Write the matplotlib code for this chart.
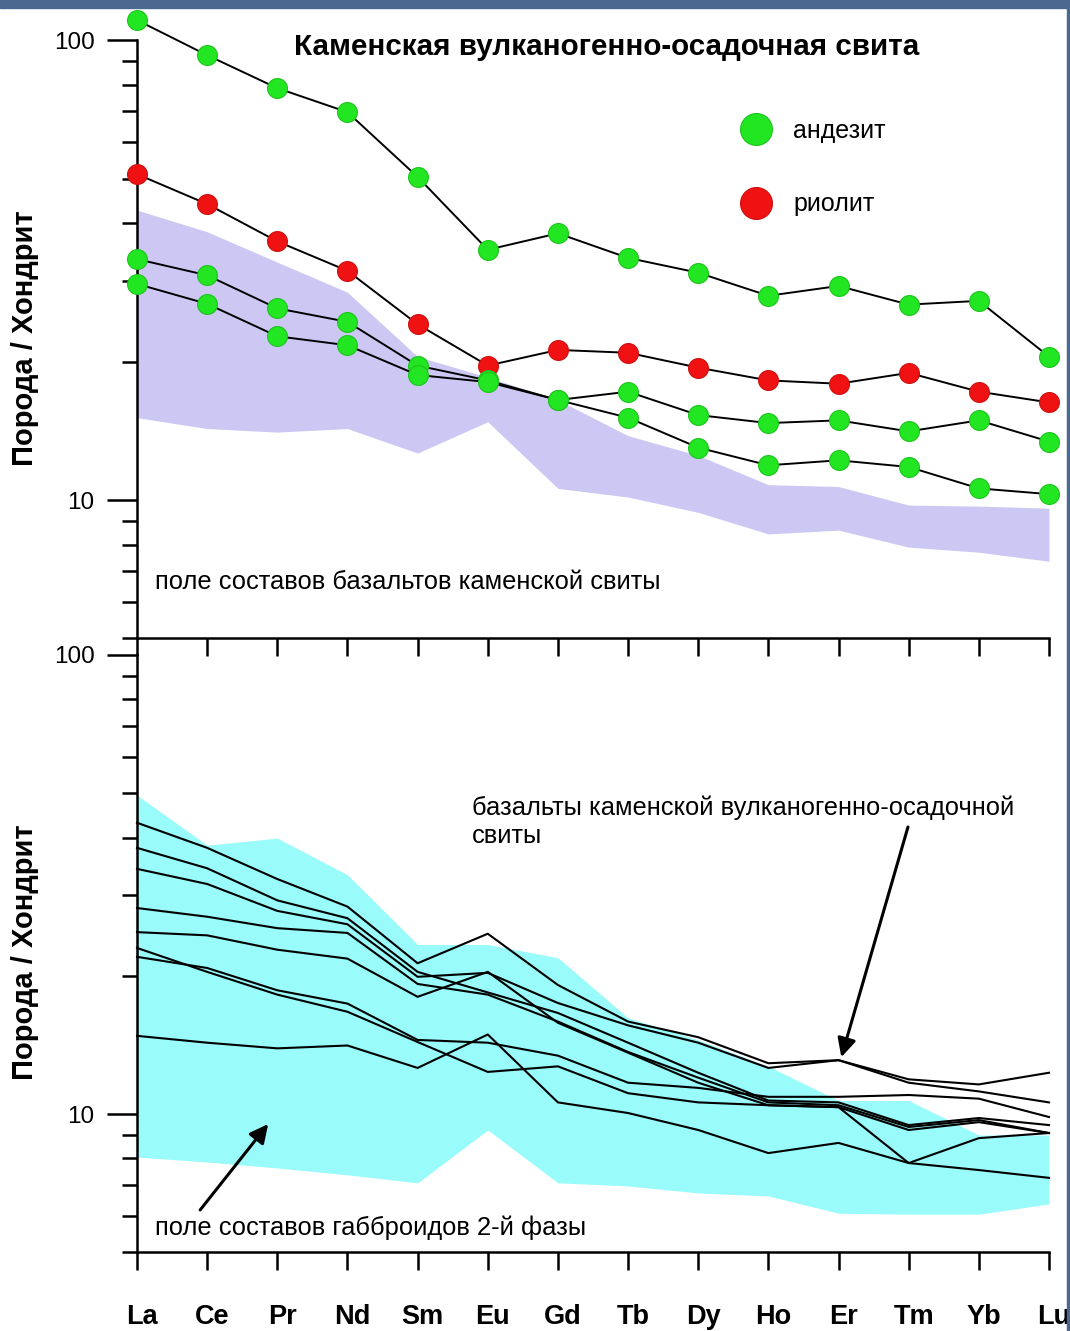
import matplotlib
matplotlib.use('Agg')
import matplotlib.pyplot as plt
from matplotlib.lines import Line2D
from matplotlib.ticker import FixedLocator, NullFormatter, FixedFormatter
from matplotlib.patches import Rectangle
from matplotlib.transforms import ScaledTranslation

plt.rcParams['font.family'] = ['Liberation Sans', 'DejaVu Sans']

# ---------------- data ----------------
elements = ['La', 'Ce', 'Pr', 'Nd', 'Sm', 'Eu', 'Gd', 'Tb', 'Dy', 'Ho', 'Er', 'Tm', 'Yb', 'Lu']

# top panel
andesite_1 = [110.5, 92.7, 78.6, 69.7, 50.4, 35.0, 38.0, 33.6, 31.2, 27.8, 29.2, 26.6, 27.1, 20.5]
andesite_2 = [33.4, 30.8, 26.1, 24.4, 19.6, 18.2, 16.5, 17.2, 15.3, 14.7, 14.9, 14.1, 14.9, 13.4]
andesite_3 = [29.5, 26.7, 22.7, 21.7, 18.7, 18.05, 16.5, 15.1, 13.0, 11.9, 12.2, 11.8, 10.6, 10.3]
rhyolite = [51.1, 44.0, 36.5, 31.5, 24.1, 19.6, 21.2, 20.9, 19.4, 18.2, 17.9, 18.9, 17.2, 16.3]

basalt_field_upper = [42.7, 38.3, 32.9, 28.3, 20.5, 18.5, 16.5, 13.8, 12.5, 10.8, 10.7, 9.75, 9.7, 9.6]
basalt_field_lower = [15.1, 14.3, 14.05, 14.3, 12.65, 14.8, 10.6, 10.15, 9.4, 8.44, 8.6, 7.9, 7.7, 7.36]

# bottom panel
gabbro_field_upper = [49.5, 38.5, 39.9, 33.2, 23.4, 23.4, 21.9, 16.2, 14.5, 12.7, 10.7, 10.7, 9.0, 9.0]
gabbro_field_lower = [8.06, 7.86, 7.63, 7.37, 7.08, 9.23, 7.08, 6.97, 6.73, 6.63, 6.08, 6.05, 6.05, 6.37]

basalt_1 = [43.1, 38.0, 32.5, 28.3, 21.3, 24.7, 19.1, 15.9, 14.7, 12.9, 13.1, 11.9, 11.6, 12.3]
basalt_2 = [38.0, 34.3, 29.2, 26.7, 20.4, 18.4, 16.6, 14.3, 12.3, 10.7, 10.6, 9.46, 9.8, 9.46]
basalt_3 = [34.2, 31.7, 27.7, 25.9, 19.9, 20.3, 17.45, 15.6, 14.3, 12.6, 13.1, 11.7, 11.2, 10.6]
basalt_4 = [28.1, 26.9, 25.4, 24.8, 19.2, 18.2, 15.9, 13.65, 12.0, 10.6, 10.45, 9.37, 9.7, 9.09]
basalt_5 = [24.9, 24.5, 22.8, 21.8, 18.0, 20.4, 15.8, 13.6, 11.7, 10.45, 10.35, 9.23, 9.6, 9.09]
basalt_6 = [23.0, 20.4, 18.2, 16.7, 14.35, 12.35, 12.7, 11.1, 10.6, 10.45, 10.35, 7.82, 8.86, 9.09]
basalt_7 = [22.0, 20.8, 18.6, 17.4, 14.5, 14.3, 13.4, 11.7, 11.4, 10.9, 10.9, 11.0, 10.8, 9.85]
basalt_8 = [14.8, 14.3, 13.9, 14.1, 12.6, 14.9, 10.6, 10.05, 9.23, 8.22, 8.65, 7.82, 7.55, 7.26]
basalts = [basalt_1, basalt_2, basalt_3, basalt_4, basalt_5, basalt_6, basalt_7, basalt_8]

y_major = [10, 100]
y_major_labels = ['10', '100']
y_minor = [5, 6, 7, 8, 9, 20, 30, 40, 50, 60, 70, 80, 90]

# ---------------- figure ----------------
W, H = 1070, 1331
fig = plt.figure(figsize=(W / 100, H / 100), dpi=100)
fig.patch.set_facecolor('white')

x0, x1 = 137, 1049
top_px, mid_px, bot_px = 8, 638.5, 1252.2
ax1 = fig.add_axes([x0 / W, 1 - mid_px / H, (x1 - x0) / W, (mid_px - top_px) / H])
ax2 = fig.add_axes([x0 / W, 1 - bot_px / H, (x1 - x0) / W, (bot_px - mid_px) / H])

GREEN = '#22e622'
GREEN_EDGE = '#1cc41c'
RED = '#f01212'
RED_EDGE = '#cc1010'
LAVENDER = '#cdc8f3'
CYAN = '#9afbfb'

xs = list(range(len(elements)))

# top panel
ax1.fill_between(xs, basalt_field_lower, basalt_field_upper, color=LAVENDER, lw=0, zorder=1)
for series, fc, ec in [(andesite_1, GREEN, GREEN_EDGE), (rhyolite, RED, RED_EDGE),
                       (andesite_2, GREEN, GREEN_EDGE), (andesite_3, GREEN, GREEN_EDGE)]:
    ax1.plot(xs, series, color='black', lw=1.4, marker='o', ms=14.3,
             mfc=fc, mec=ec, mew=0.8, zorder=3, clip_on=False)

# bottom panel
ax2.fill_between(xs, gabbro_field_lower, gabbro_field_upper, color=CYAN, lw=0, zorder=1)
for series in basalts:
    ax2.plot(xs, series, color='black', lw=1.5, zorder=3, clip_on=False)

for ax, ylim in [(ax1, (5, 117.4)), (ax2, (5, 108.6))]:
    ax.set_yscale('log')
    ax.set_ylim(*ylim)
    ax.set_xlim(0, 13)
    ax.patch.set_visible(False)
    ax.spines['top'].set_visible(False)
    ax.spines['right'].set_visible(False)
    ax.spines['left'].set_bounds(5, 100)
    ax.spines['left'].set_linewidth(1.8)
    ax.spines['bottom'].set_linewidth(1.8)
    ax.set_xticks(xs)
    ax.yaxis.set_major_locator(FixedLocator(y_major))
    ax.yaxis.set_major_formatter(FixedFormatter(y_major_labels))
    ax.yaxis.set_minor_locator(FixedLocator(y_minor))
    ax.yaxis.set_minor_formatter(NullFormatter())
    ax.tick_params(axis='y', which='major', length=21.6, width=1.8, direction='out',
                   labelsize=17.5, pad=9)
    ax.tick_params(axis='y', which='minor', length=10.8, width=1.8, direction='out')
    ax.tick_params(axis='x', which='major', length=13, width=1.8, direction='out')
    ax.tick_params(axis='x', which='minor', bottom=False)
    ax.set_ylabel('Порода / Хондрит', fontsize=21, fontweight='bold')

ax1.tick_params(axis='x', labelbottom=False)
ax2.set_xticklabels(elements, fontsize=19.5, fontweight='bold')
ax2.tick_params(axis='x', pad=24)
shift = ScaledTranslation(5 / 100, 0, fig.dpi_scale_trans)
for lbl in ax2.get_xticklabels():
    lbl.set_transform(lbl.get_transform() + shift)
ax1.yaxis.set_label_coords(-0.108, 0.477)
ax2.yaxis.set_label_coords(-0.108, 0.489)

# texts
ax1.text(6.7, 96.5, 'Каменская вулканогенно-осадочная свита', ha='center', va='center',
         fontsize=21.3, fontweight='bold')
ax1.text(0.257, 6.63, 'поле составов базальтов каменской свиты', ha='left', va='center',
         fontsize=18.4)
ax2.text(4.78, 43.3, 'базальты каменской вулканогенно-осадочной\nсвиты', ha='left',
         va='center', fontsize=18.4, linespacing=1.2)
ax2.text(0.257, 5.64, 'поле составов габброидов 2-й фазы', ha='left', va='center',
         fontsize=18.4)

# arrows
ax2.annotate('', xy=(10.04, 13.3), xytext=(10.99, 42.2),
             arrowprops=dict(arrowstyle='-|>', lw=2.2, color='black', mutation_scale=28,
                             shrinkA=0, shrinkB=0))
ax2.annotate('', xy=(1.87, 9.51), xytext=(0.9, 6.18),
             arrowprops=dict(arrowstyle='-|>', lw=2.2, color='black', mutation_scale=28,
                             shrinkA=0, shrinkB=0))

# legend
handles = [Line2D([], [], ls='none', marker='o', ms=23, mfc=GREEN, mec=GREEN_EDGE, mew=0.8),
           Line2D([], [], ls='none', marker='o', ms=23, mfc=RED, mec=RED_EDGE, mew=0.8)]
ax1.legend(handles, ['андезит', 'риолит'], loc='upper left',
           bbox_to_anchor=(718 / W, 1 - 106.5 / H), bbox_transform=fig.transFigure,
           frameon=False, fontsize=18, labelspacing=1.97, handletextpad=0.5,
           handlelength=2.0, borderpad=0)

# frame decorations (slide border)
fig.patches.append(Rectangle((0, 1 - 8 / H), 1, 8 / H, transform=fig.transFigure,
                             color='#4b6890', zorder=10))
fig.patches.append(Rectangle((1 - 3 / W, 0), 3 / W, 1, transform=fig.transFigure,
                             color='#4b6890', zorder=10))

fig.savefig('out.png', dpi=100)
